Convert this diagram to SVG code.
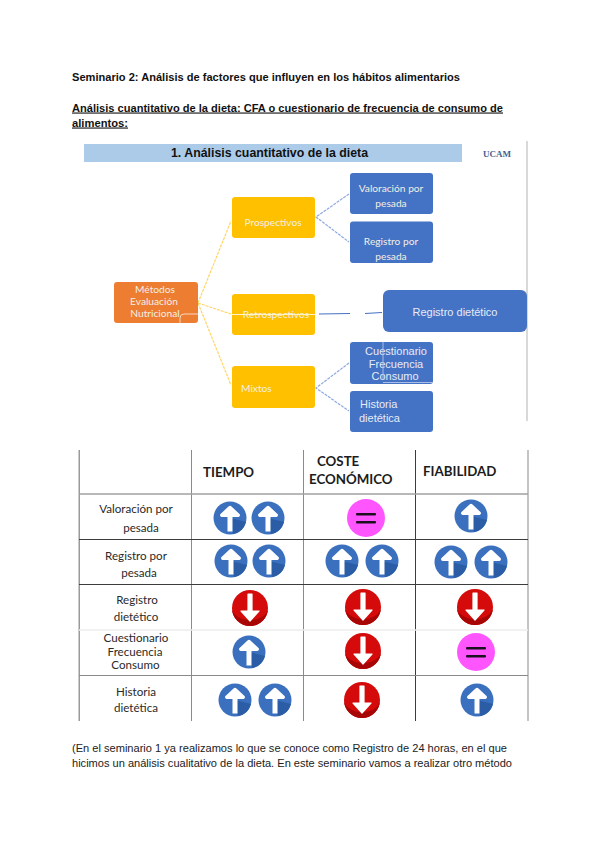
<svg xmlns="http://www.w3.org/2000/svg" xmlns:xlink="http://www.w3.org/1999/xlink" width="600" height="848" viewBox="0 0 600 848">
<style>
text{font-family:"Liberation Sans",Arial,sans-serif;fill:#111}
.b{font-weight:bold;font-size:11px}
.p{font-size:11px;fill:#222}
.nl{font-family:Lato,"Open Sans",sans-serif;font-size:10.200px;fill:#f2efe6;text-anchor:middle}
.nr{font-size:11px;fill:#e6ecf8;text-anchor:middle}
.th{font-family:Lato,"Open Sans",sans-serif;font-weight:bold;font-size:13.300px;fill:#1c1c1c}
.td{font-family:Lato,"Open Sans",sans-serif;font-size:11.600px;fill:#2a2a2a;text-anchor:middle}
.y{fill:#ffc000}.bl{fill:#4472c4}.o{fill:#ed7d31}
.cy{stroke:#ffd566;stroke-width:1.200;stroke-dasharray:3 1;fill:none}
.cb{stroke:#8fa9de;stroke-width:1.200;stroke-dasharray:3 1;fill:none}
.g{stroke:#8a8a8a;stroke-width:1;fill:none}
.k{stroke:#3c3c3c;stroke-width:1;fill:none}
</style>
<defs>
<g id="up"><circle r="16.5" fill="#3a70bd"/><path d="M0 0L16 4A16.500 16.500 0 0 1 3 16Z" fill="#2b5ca6"/><path d="M-2.500 13.500V-1H-8.500A1.800 1.800 0 0 1 -9.500 -4L-1.500 -11.500A2 2 0 0 1 1.500 -11.500L9.500 -4A1.800 1.800 0 0 1 8.500 -1H2.500V13.500Z" fill="#fff"/></g>
<g id="down"><circle r="18" fill="#d50a0a"/><path d="M-18 0A18 18 0 0 0 18 0A18 12 0 0 1 -18 0Z" fill="#a80505"/><path d="M-2 -14V3H-9L0 13L9 3H2V-14Z" fill="#fff" stroke="#fff" stroke-width="1.200" stroke-linejoin="round"/></g>
<g id="eq"><circle r="19" fill="#ff55ff"/><rect x="-10" y="-5" width="20" height="2.500" rx="1" fill="#1a1020"/><rect x="-10" y="3" width="20" height="2.500" rx="1" fill="#1a1020"/></g>
</defs>
<rect width="600" height="848" fill="#fff"/>

<g id="heading">
<text class="b" x="72" y="81" textLength="388" lengthAdjust="spacingAndGlyphs">Seminario 2: Análisis de factores que influyen en los hábitos alimentarios</text>
<text class="b" x="72" y="111.500" textLength="431" lengthAdjust="spacingAndGlyphs" text-decoration="underline">Análisis cuantitativo de la dieta: CFA o cuestionario de frecuencia de consumo de</text>
<text class="b" x="72" y="126.500" textLength="56" lengthAdjust="spacingAndGlyphs" text-decoration="underline">alimentos:</text>
</g>

<g id="banner">
<rect x="84" y="144" width="378" height="18" fill="#accbe9"/>
<text x="171" y="157" font-size="13" font-weight="bold" textLength="197" lengthAdjust="spacingAndGlyphs">1. Análisis cuantitativo de la dieta</text>
<text x="483" y="157" font-size="8" font-weight="bold" textLength="28" lengthAdjust="spacingAndGlyphs" style="font-family:'Liberation Serif',serif;fill:#3f5f8f">UCAM</text>
<rect x="526" y="141" width="2" height="280" fill="#d9d9d9"/>
</g>

<g id="connectors">
<path class="cy" d="M198 303L231 221M198 303L231 314M198 303L231 385"/>
<path class="cb" d="M349 194L316 217L349 242M349 363L316 388L349 411"/>
<path d="M319 314L350 313.500M365 313.500L382 312.500" stroke="#4472c4" stroke-width="1" fill="none"/>
</g>

<g id="n-metodos">
<rect class="o" x="114" y="282" width="84" height="41" rx="3"/>
<text class="nl" x="155" y="293">Métodos</text><text class="nl" x="154" y="305">Evaluación</text><text class="nl" x="155" y="317">Nutricional</text>
<path d="M180 323V318Q180 314 184 314H198" stroke="#f8d8c0" stroke-width="1" fill="none"/>
</g>
<g id="n-prospectivos"><rect class="y" x="232" y="197" width="83" height="41" rx="3"/><text class="nl" x="273" y="226">Prospectivos</text></g>
<g id="n-retrospectivos"><rect class="y" x="232" y="294" width="83" height="41" rx="3"/><text class="nl" x="276" y="318">Retrospectivos</text><path d="M232 314.500H315" stroke="#fff3cc" stroke-width="1"/></g>
<g id="n-mixtos"><rect class="y" x="232" y="366" width="83" height="42" rx="3"/><text class="nl" x="241" y="392" style="text-anchor:start">Mixtos</text></g>
<g id="n-valoracion"><rect class="bl" x="350" y="173" width="83" height="41" rx="3"/><text class="nl" x="391" y="192">Valoración por</text><text class="nl" x="391" y="207">pesada</text></g>
<g id="n-registro-pesada"><rect class="bl" x="350" y="221.500" width="83" height="41.500" rx="3"/><text class="nl" x="391" y="245">Registro por</text><text class="nl" x="391" y="260">pesada</text></g>
<g id="n-registro-dietetico"><rect class="bl" x="383" y="290" width="144" height="42" rx="6"/><text class="nr" x="455" y="316">Registro dietético</text></g>
<g id="n-cuestionario"><rect class="bl" x="350" y="342" width="83" height="42" rx="3"/><text class="nr" x="396" y="355">Cuestionario</text><text class="nr" x="396" y="367.500">Frecuencia</text><text class="nr" x="395" y="380">Consumo</text><path d="M383 342V379M383 382.500H433" stroke="#a9bde6" stroke-width="1" fill="none"/></g>
<g id="n-historia"><rect class="bl" x="350" y="391" width="83" height="41" rx="3"/><text class="nr" x="360" y="408" style="text-anchor:start">Historia</text><text class="nr" x="359" y="422" style="text-anchor:start">dietética</text></g>

<g id="table">
<rect x="78.500" y="450" width="1.500" height="271" fill="#9a9a9a"/>
<rect x="527" y="450" width="2" height="271" fill="#c4c4c4"/>
<path class="g" d="M191.500 450V721M303.500 450V721"/>
<path class="k" d="M415.500 450V721"/>
<path d="M79 494H528" stroke="#a0a0a0" stroke-width="1.500" fill="none"/>
<path class="k" d="M79 539.500H528M79 584.500H528"/>
<path d="M79 630H528" stroke="#ececec" stroke-width="1.500" fill="none"/>
<path class="g" d="M79 675.500H528"/>
<text class="th" x="203" y="477">TIEMPO</text>
<text class="th" x="317" y="466">COSTE</text>
<text class="th" x="309" y="484">ECONÓMICO</text>
<text class="th" x="423" y="476">FIABILIDAD</text>
<text class="td" x="136" y="513">Valoración por</text><text class="td" x="141" y="532">pesada</text>
<text class="td" x="136" y="560">Registro por</text><text class="td" x="139" y="577">pesada</text>
<text class="td" x="137" y="604">Registro</text><text class="td" x="136" y="621">dietético</text>
<text class="td" x="136" y="642">Cuestionario</text><text class="td" x="135" y="655.500">Frecuencia</text><text class="td" x="135.500" y="669">Consumo</text>
<text class="td" x="136" y="696">Historia</text><text class="td" x="136" y="712">dietética</text>
<use xlink:href="#up" href="#up" x="230" y="518"/><use xlink:href="#up" href="#up" x="268" y="518"/>
<use xlink:href="#eq" href="#eq" x="366" y="518"/>
<use xlink:href="#up" href="#up" x="471" y="516"/>
<use xlink:href="#up" href="#up" x="231" y="561"/><use xlink:href="#up" href="#up" x="269" y="561"/>
<use xlink:href="#up" href="#up" x="342" y="561"/><use xlink:href="#up" href="#up" x="382" y="561"/>
<use xlink:href="#up" href="#up" x="451" y="562"/><use xlink:href="#up" href="#up" x="491" y="562"/>
<use xlink:href="#down" href="#down" x="250" y="608"/><use xlink:href="#down" href="#down" x="363" y="607"/><use xlink:href="#down" href="#down" x="475" y="607"/>
<use xlink:href="#up" href="#up" x="249" y="652"/><use xlink:href="#down" href="#down" x="363" y="651"/><use xlink:href="#eq" href="#eq" x="476" y="652"/>
<use xlink:href="#up" href="#up" x="235" y="700"/><use xlink:href="#up" href="#up" x="275" y="700"/>
<use xlink:href="#down" href="#down" x="362" y="700"/><use xlink:href="#up" href="#up" x="477" y="700"/>
</g>

<g id="paragraph">
<text class="p" x="72" y="752" textLength="435" lengthAdjust="spacingAndGlyphs">(En el seminario 1  ya realizamos lo que se conoce como Registro de 24 horas, en el que</text>
<text class="p" x="72" y="767" textLength="440" lengthAdjust="spacingAndGlyphs">hicimos un análisis cualitativo de la dieta. En este seminario vamos a realizar otro método</text>
</g>
</svg>
